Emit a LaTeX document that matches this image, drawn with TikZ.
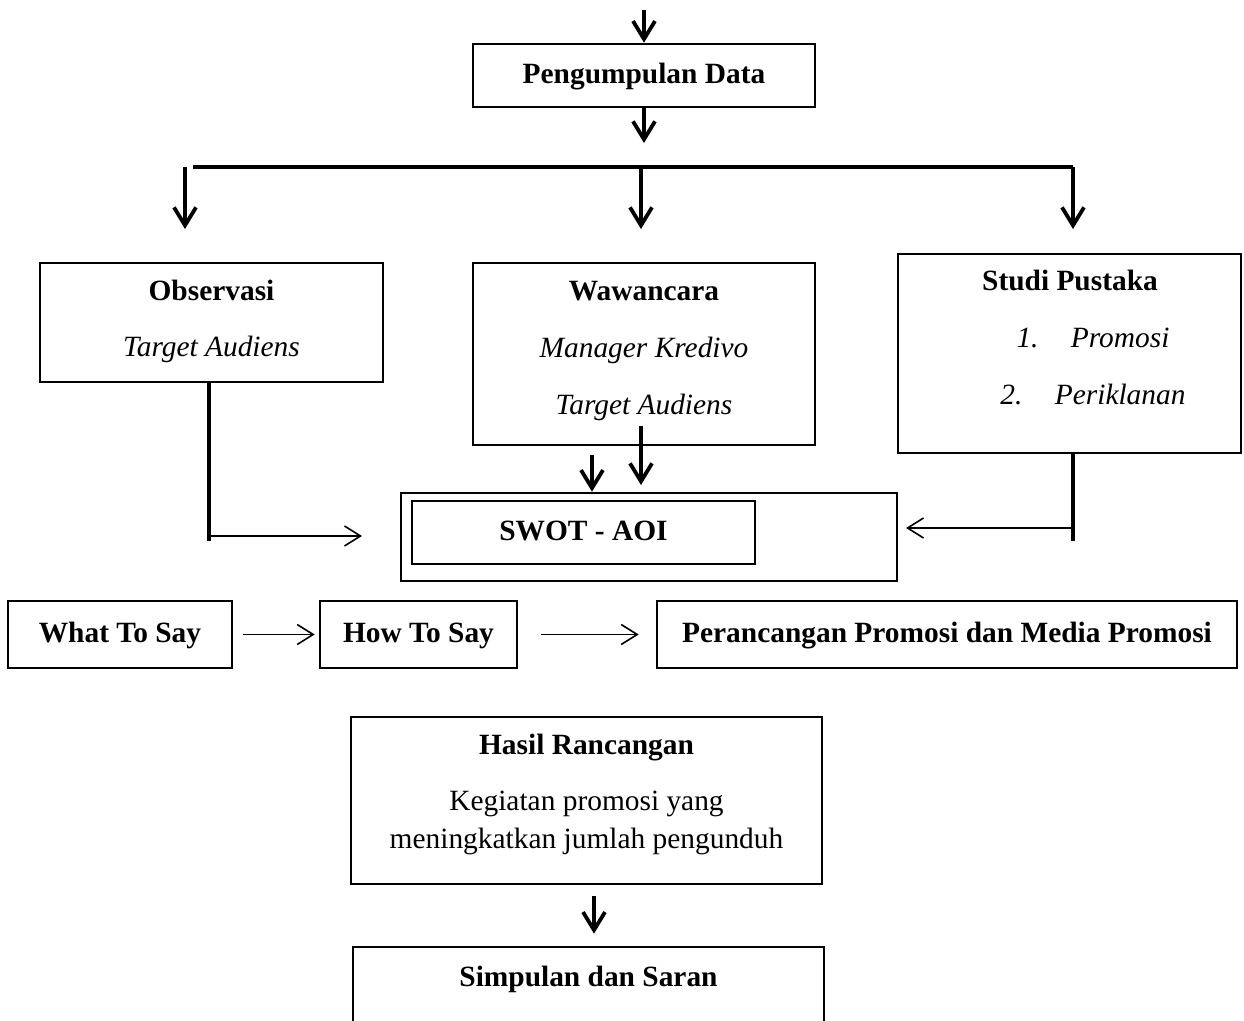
\documentclass[tikz,border=0pt]{standalone}
\usepackage{fontspec}
\setmainfont{Liberation Serif}
\usetikzlibrary{arrows.meta}
\tikzset{
  txt/.style={font=\fontsize{14.7}{17}\selectfont, inner sep=0pt, text height=0.9em, text depth=0.12em},
  frame/.style={txt, draw, line width=1.3pt},
  flow/.style={line width=1.9pt, -{Straight Barb[length=9pt,width=11pt]}},
  feed/.style={line width=0.8pt, -{Straight Barb[length=8pt,width=10pt]}},
  bar/.style={line width=1.9pt}
}

\begin{document}
\begin{tikzpicture}[x=0.5pt,y=-0.5pt]
\useasboundingbox (0,0) rectangle (1244,1021);
\coordinate (in) at (644,10);
\node[frame, minimum width=171pt, minimum height=31.5pt] (pd) at (644,75.5) {\textbf{Pengumpulan Data}};
\draw[flow] (in) -- (pd);
\coordinate (split) at (644,143);
\draw[flow] (pd) -- (split);

\coordinate (barL) at (193,167);
\coordinate (barR) at (1073,167);
\draw[bar] (barL) -- (barR);
\foreach \name/\x in {obs/185, ww/641, sp/1073} {
  \coordinate (\name-from) at (\x,167);
  \coordinate (\name-to) at (\x,229);
  \draw[flow] (\name-from) -- (\name-to);
}

\node[frame, minimum width=171.5pt, minimum height=59.5pt] (obs) at (211.5,322.5) {};
\node[txt] (obs-title) at (211.5,293) {\textbf{Observasi}};
\node[txt] (obs-item) at (211.5,349) {\textit{Target Audiens}};

\node[frame, minimum width=171pt, minimum height=91pt] (ww) at (644,354) {};
\node[txt] (ww-title) at (644,293) {\textbf{Wawancara}};
\node[txt] (ww-item1) at (644,350) {\textit{Manager Kredivo}};
\node[txt] (ww-item2) at (644,407) {\textit{Target Audiens}};

\node[frame, minimum width=171.5pt, minimum height=99.5pt] (sp) at (1069.5,353.5) {};
\node[txt] (sp-title) at (1070,283) {\textbf{Studi Pustaka}};
\node[txt] (sp-item1) at (1093,340) {\textit{1.\hspace{1.1em}Promosi}};
\node[txt] (sp-item2) at (1093,397) {\textit{2.\hspace{1.1em}Periklanan}};

\node[frame, minimum width=248pt, minimum height=44pt] (swot) at (649,537) {};
\node[frame, minimum width=171.5pt, minimum height=31.5pt] (aoi) at (583.5,532.5) {\textbf{SWOT - AOI}};

\coordinate (obs-down) at (209,541);
\draw[bar] (obs.south -| obs-down) -- (obs-down);
\coordinate (obs-tip) at (362,536);
\draw[feed] (obs-down |- obs-tip) -- (obs-tip);

\coordinate (sp-down) at (1073,541);
\draw[bar] (sp.south -| sp-down) -- (sp-down);
\coordinate (sp-tip) at (906,528);
\draw[feed] (sp-down |- sp-tip) -- (sp-tip);

\coordinate (ww-a) at (592,455);
\draw[flow] (ww-a) -- (ww-a |- swot.north);
\coordinate (ww-b) at (641,426);
\coordinate (ww-b-tip) at (641,485);
\draw[flow] (ww-b) -- (ww-b-tip);

\node[frame, minimum width=112pt, minimum height=33.5pt] (wts) at (120,634.5) {\textbf{What To Say}};
\node[frame, minimum width=98.5pt, minimum height=33.5pt] (hts) at (418.5,634.5) {\textbf{How To Say}};
\node[frame, minimum width=290pt, minimum height=33.5pt] (ppm) at (947,634.5) {\textbf{Perancangan Promosi dan Media Promosi}};
\draw[feed, shorten <=5pt, shorten >=2pt] (wts) -- (hts);
\draw[feed, shorten <=11.5pt, shorten >=8.5pt] (hts) -- (ppm);

\node[frame, minimum width=235.5pt, minimum height=83.5pt] (hr) at (586.5,800.5) {};
\node[txt] (hr-title) at (586.5,747) {\textbf{Hasil Rancangan}};
\node[txt] (hr-line1) at (586.5,803) {Kegiatan promosi yang};
\node[txt] (hr-line2) at (586.5,841) {meningkatkan jumlah pengunduh};

\node[frame, minimum width=235.5pt, minimum height=60pt] (ss) at (588.5,1007) {};
\node[txt] (ss-title) at (588.5,979) {\textbf{Simpulan dan Saran}};
\coordinate (hr-x) at (594,0);
\draw[flow, shorten <=5.5pt, shorten >=6pt] (hr.south -| hr-x) -- (ss.north -| hr-x);
\end{tikzpicture}
\end{document}
